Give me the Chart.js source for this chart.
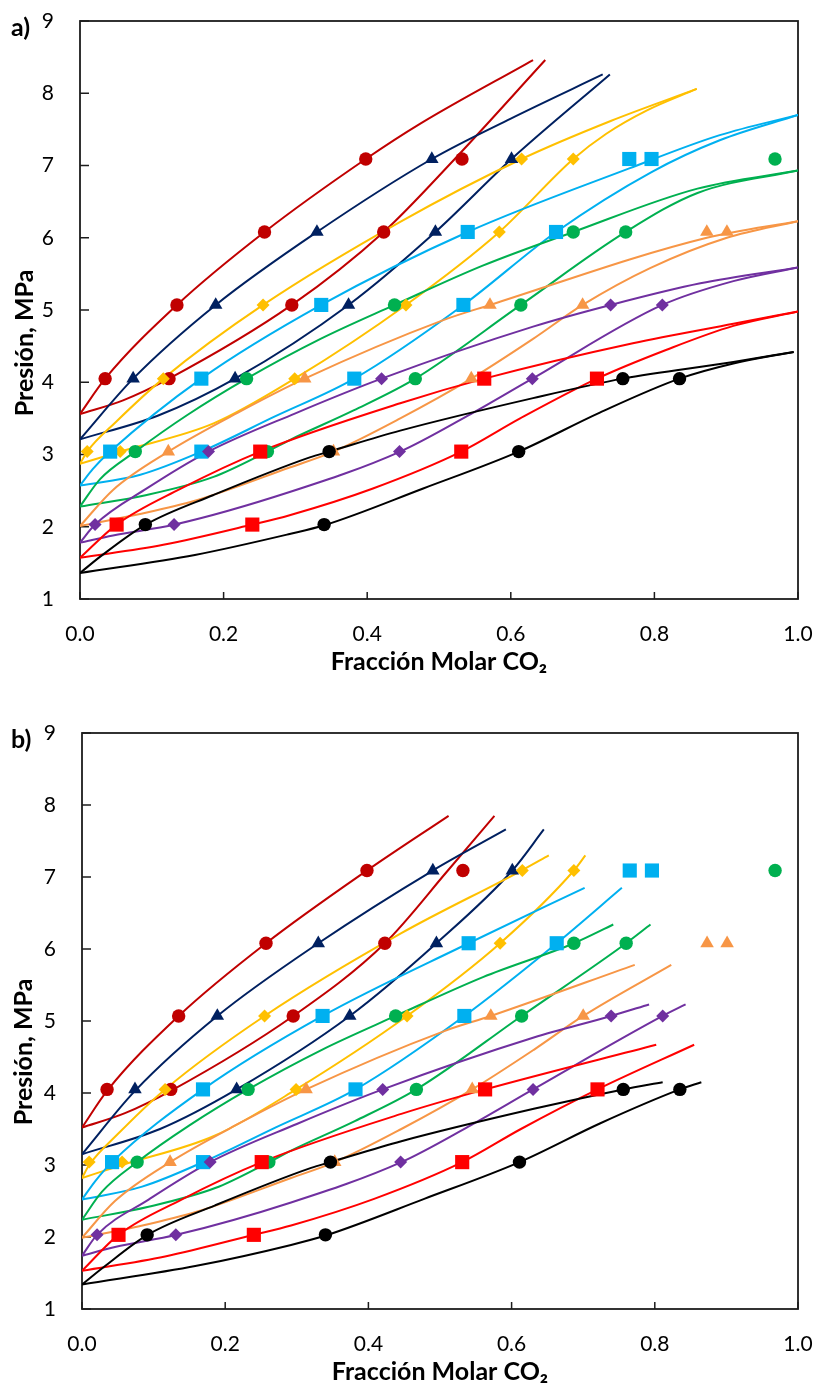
<!DOCTYPE html>
<html>
<head>
<meta charset="utf-8">
<script src="https://cdn.jsdelivr.net/npm/chart.js@4.4.1/dist/chart.umd.min.js"></script>
<style>
  body { margin: 0; background: #fff; width: 819px; height: 1391px; overflow: hidden; position: relative; }
  .panel { position: absolute; left: 0; width: 819px; }
  #panelA { top: 0; height: 679px; }
  #panelB { top: 690px; height: 701px; }
</style>
</head>
<body>
<div class="panel" id="panelA"><canvas id="chartA"></canvas></div>
<div class="panel" id="panelB"><canvas id="chartB"></canvas></div>
<script>
// experimental points [x CO2, P MPa]
const expBlack = [[0.091,2.03],[0.340,2.03],[0.347,3.04],[0.611,3.04],[0.756,4.05],[0.835,4.05]];
const expRed = [[0.051,2.03],[0.240,2.03],[0.251,3.04],[0.531,3.04],[0.563,4.05],[0.720,4.05]];
const expPurple = [[0.021,2.03],[0.131,2.03],[0.179,3.04],[0.445,3.04],[0.420,4.05],[0.630,4.05],[0.739,5.07],[0.811,5.07]];
const expOrange = [[0.123,3.04],[0.353,3.04],[0.313,4.05],[0.545,4.05],[0.571,5.07],[0.700,5.07],[0.873,6.08],[0.901,6.08]];
const expGreen = [[0.077,3.04],[0.261,3.04],[0.232,4.05],[0.467,4.05],[0.438,5.07],[0.614,5.07],[0.687,6.08],[0.760,6.08],[0.968,7.09]];
const expBlue = [[0.042,3.04],[0.169,3.04],[0.169,4.05],[0.382,4.05],[0.336,5.07],[0.534,5.07],[0.540,6.08],[0.663,6.08],[0.765,7.09],[0.796,7.09]];
const expYellow = [[0.010,3.04],[0.056,3.04],[0.116,4.05],[0.299,4.05],[0.255,5.07],[0.454,5.07],[0.584,6.08],[0.615,7.09],[0.687,7.09]];
const expNavy = [[0.074,4.05],[0.216,4.05],[0.189,5.07],[0.374,5.07],[0.330,6.08],[0.495,6.08],[0.490,7.09],[0.601,7.09]];
const expDarkRed = [[0.035,4.05],[0.124,4.05],[0.135,5.07],[0.295,5.07],[0.257,6.08],[0.423,6.08],[0.398,7.09],[0.532,7.09]];

// model curves, panel a)
const aBlackL = [[0,1.36],[0.03,1.6],[0.0915,2.03],[0.186,2.44],[0.32,2.96],[0.347,3.04],[0.446,3.33],[0.631,3.78],[0.756,4.05],[0.91,4.28],[0.994,4.42]];
const aBlackR = [[0,1.36],[0.16,1.61],[0.292,1.9],[0.34,2.02],[0.478,2.53],[0.611,3.04],[0.724,3.58],[0.835,4.05],[0.91,4.26],[0.994,4.42]];
const aRedL = [[0,1.57],[0.051,2.03],[0.139,2.52],[0.251,3.04],[0.446,3.71],[0.563,4.05],[0.77,4.54],[0.91,4.81],[1,4.98]];
const aRedR = [[0,1.57],[0.116,1.75],[0.24,2.03],[0.292,2.16],[0.408,2.53],[0.531,3.04],[0.613,3.5],[0.72,4.05],[0.817,4.45],[0.91,4.78],[1,4.98]];
const aPurL = [[0,1.78],[0.021,2.03],[0.093,2.53],[0.179,3.04],[0.3,3.57],[0.42,4.05],[0.631,4.77],[0.739,5.07],[0.864,5.37],[1,5.59]];
const aPurR = [[0,1.78],[0.046,1.88],[0.132,2.03],[0.292,2.48],[0.446,3.04],[0.539,3.53],[0.63,4.05],[0.811,5.07],[0.91,5.4],[1,5.59]];
const aOraL = [[0,2.01],[0.046,2.51],[0.123,3.04],[0.22,3.58],[0.313,4.05],[0.506,4.86],[0.571,5.07],[0.873,6.0],[1,6.23]];
const aOraR = [[0,2.01],[0.08,2.17],[0.16,2.36],[0.292,2.82],[0.353,3.04],[0.446,3.5],[0.545,4.05],[0.631,4.6],[0.7,5.07],[0.794,5.58],[0.901,6.0],[1,6.23]];
const aGrnL = [[0,2.28],[0.028,2.66],[0.077,3.04],[0.15,3.55],[0.232,4.05],[0.335,4.6],[0.438,5.07],[0.56,5.61],[0.687,6.08],[0.86,6.68],[1,6.93]];
const aGrnR = [[0,2.28],[0.093,2.44],[0.186,2.69],[0.261,3.04],[0.292,3.2],[0.381,3.61],[0.467,4.05],[0.614,5.07],[0.76,6.08],[0.86,6.62],[1,6.93]];
const aBluL = [[0,2.57],[0.018,2.8],[0.042,3.04],[0.169,4.05],[0.336,5.07],[0.54,6.08],[0.765,6.96],[0.891,7.42],[1,7.7]];
const aBluR = [[0,2.57],[0.084,2.72],[0.169,3.04],[0.27,3.52],[0.382,4.05],[0.534,5.07],[0.663,6.08],[0.796,6.91],[0.891,7.35],[1,7.7]];
const aYelL = [[0,2.87],[0.01,3.04],[0.05,3.45],[0.116,4.05],[0.255,5.07],[0.446,6.22],[0.615,7.09],[0.74,7.62],[0.859,8.06]];
const aYelR = [[0,2.87],[0.056,3.04],[0.186,3.43],[0.299,4.05],[0.454,5.07],[0.584,6.08],[0.687,7.09],[0.733,7.44],[0.789,7.76],[0.859,8.06]];
const aNavL = [[0,3.21],[0.074,4.05],[0.189,5.07],[0.33,6.08],[0.49,7.09],[0.6,7.65],[0.728,8.26]];
const aNavR = [[0,3.21],[0.109,3.54],[0.216,4.05],[0.374,5.07],[0.495,6.08],[0.601,7.09],[0.738,8.26]];
const aDrdL = [[0,3.56],[0.035,4.05],[0.135,5.07],[0.257,6.08],[0.398,7.09],[0.474,7.58],[0.631,8.46]];
const aDrdR = [[0,3.56],[0.06,3.75],[0.124,4.05],[0.295,5.07],[0.423,6.08],[0.52,7.07],[0.648,8.46]];

// model curves, panel b)
const bBlackL = [[0,1.34],[0.03,1.58],[0.0915,2.03],[0.186,2.44],[0.32,2.96],[0.347,3.04],[0.446,3.33],[0.631,3.78],[0.756,4.05],[0.811,4.15]];
const bBlackR = [[0,1.34],[0.16,1.6],[0.292,1.89],[0.34,2.02],[0.478,2.53],[0.611,3.04],[0.724,3.58],[0.835,4.05],[0.865,4.15]];
const bRedL = [[0,1.53],[0.051,2.03],[0.139,2.52],[0.251,3.04],[0.446,3.71],[0.563,4.05],[0.802,4.67]];
const bRedR = [[0,1.53],[0.116,1.73],[0.24,2.03],[0.292,2.16],[0.408,2.53],[0.531,3.04],[0.613,3.5],[0.72,4.05],[0.855,4.67]];
const bPurL = [[0,1.74],[0.021,2.03],[0.093,2.52],[0.179,3.04],[0.3,3.57],[0.42,4.05],[0.631,4.77],[0.739,5.07],[0.792,5.23]];
const bPurR = [[0,1.74],[0.046,1.86],[0.132,2.03],[0.292,2.48],[0.446,3.04],[0.539,3.53],[0.63,4.05],[0.811,5.07],[0.843,5.23]];
const bOraL = [[0,1.99],[0.046,2.5],[0.123,3.04],[0.22,3.58],[0.313,4.05],[0.506,4.86],[0.571,5.07],[0.772,5.78]];
const bOraR = [[0,1.99],[0.08,2.15],[0.16,2.35],[0.292,2.82],[0.353,3.04],[0.446,3.5],[0.545,4.05],[0.631,4.6],[0.7,5.07],[0.823,5.78]];
const bGrnL = [[0,2.24],[0.028,2.63],[0.077,3.04],[0.15,3.55],[0.232,4.05],[0.335,4.6],[0.438,5.07],[0.56,5.61],[0.687,6.08],[0.742,6.34]];
const bGrnR = [[0,2.24],[0.093,2.42],[0.186,2.68],[0.261,3.04],[0.292,3.2],[0.381,3.61],[0.467,4.05],[0.614,5.07],[0.76,6.08],[0.794,6.34]];
const bBluL = [[0,2.52],[0.018,2.77],[0.042,3.04],[0.169,4.05],[0.336,5.07],[0.54,6.08],[0.702,6.85]];
const bBluR = [[0,2.52],[0.084,2.7],[0.169,3.04],[0.27,3.52],[0.382,4.05],[0.534,5.07],[0.663,6.08],[0.754,6.85]];
const bYelL = [[0,2.82],[0.01,3.0],[0.05,3.43],[0.116,4.05],[0.255,5.07],[0.446,6.22],[0.614,7.09],[0.652,7.3]];
const bYelR = [[0,2.82],[0.056,3.0],[0.186,3.41],[0.299,4.05],[0.454,5.07],[0.584,6.08],[0.687,7.09],[0.703,7.3]];
const bNavL = [[0,3.15],[0.074,4.03],[0.189,5.07],[0.33,6.08],[0.49,7.09],[0.592,7.66]];
const bNavR = [[0,3.15],[0.109,3.5],[0.216,4.05],[0.374,5.07],[0.495,6.08],[0.601,7.09],[0.645,7.66]];
const bDrdL = [[0,3.52],[0.035,4.03],[0.135,5.07],[0.257,6.08],[0.398,7.09],[0.512,7.85]];
const bDrdR = [[0,3.52],[0.06,3.72],[0.124,4.03],[0.295,5.07],[0.423,6.08],[0.511,7.09],[0.576,7.85]];

const series = [
  {color: '#000000', style: 'circle', r: 6.7, exp: expBlack, a: [aBlackL, aBlackR], b: [bBlackL, bBlackR]},
  {color: '#FF0000', style: 'rect', r: 10, exp: expRed, a: [aRedL, aRedR], b: [bRedL, bRedR]},
  {color: '#7030A0', style: 'rectRot', r: 6.5, exp: expPurple, a: [aPurL, aPurR], b: [bPurL, bPurR]},
  {color: '#F79646', style: 'triangle', r: 7.8, exp: expOrange, a: [aOraL, aOraR], b: [bOraL, bOraR]},
  {color: '#00B050', style: 'circle', r: 6.7, exp: expGreen, a: [aGrnL, aGrnR], b: [bGrnL, bGrnR]},
  {color: '#00B0F0', style: 'rect', r: 10, exp: expBlue, a: [aBluL, aBluR], b: [bBluL, bBluR]},
  {color: '#FFC000', style: 'rectRot', r: 6.5, exp: expYellow, a: [aYelL, aYelR], b: [bYelL, bYelR]},
  {color: '#002060', style: 'triangle', r: 7.8, exp: expNavy, a: [aNavL, aNavR], b: [bNavL, bNavR]},
  {color: '#C00000', style: 'circle', r: 6.7, exp: expDarkRed, a: [aDrdL, aDrdR], b: [bDrdL, bDrdR]}
];

Chart.defaults.font.family = 'Lato';
Chart.defaults.color = '#000';

function toXY(pts) {
  return pts.map(p => ({x: p[0], y: p[1]}));
}

function buildDatasets(panel) {
  const ds = [];
  series.forEach(s => {
    s[panel].forEach(c => ds.push({
      data: toXY(c),
      showLine: true,
      borderColor: s.color,
      borderWidth: 2,
      pointRadius: 0,
      pointHoverRadius: 0,
      cubicInterpolationMode: 'monotone',
      order: 2
    }));
  });
  series.forEach(s => ds.push({
    data: toXY(s.exp),
    showLine: false,
    pointStyle: s.style,
    pointRadius: s.r,
    pointHoverRadius: s.r,
    pointBackgroundColor: s.color,
    pointBorderColor: s.color,
    pointBorderWidth: 0,
    order: 1
  }));
  return ds;
}

// box round the plot, inside tick marks, panel letter and y title
function framePlugin(cfg) {
  return {
    id: 'frame' + cfg.label,
    beforeDatasetsDraw(chart) {
      const {ctx, chartArea: a, scales: {x, y}} = chart;
      ctx.save();
      ctx.strokeStyle = '#1c1c1c';
      ctx.lineWidth = 1.8;
      ctx.strokeRect(a.left, a.top, a.right - a.left, a.bottom - a.top);
      ctx.lineWidth = 1.5;
      ctx.beginPath();
      x.ticks.forEach((t, i) => {
        const px = x.getPixelForTick(i);
        ctx.moveTo(px, a.bottom);
        ctx.lineTo(px, a.bottom - 7);
      });
      y.ticks.forEach((t, i) => {
        const py = y.getPixelForTick(i);
        ctx.moveTo(a.left, py);
        ctx.lineTo(a.left + 9, py);
      });
      ctx.stroke();
      ctx.restore();
    },
    afterDraw(chart) {
      const ctx = chart.ctx;
      ctx.save();
      ctx.fillStyle = '#000';
      ctx.font = 'bold 25px Lato';
      ctx.textAlign = 'left';
      ctx.textBaseline = 'alphabetic';
      ctx.fillText(cfg.label, 11, cfg.labelY);
      ctx.translate(cfg.titleX, cfg.titleY);
      ctx.rotate(-Math.PI / 2);
      ctx.textAlign = 'center';
      ctx.fillText('Presión, MPa', 0, 0);
      ctx.restore();
    }
  };
}

function makeChart(id, panel, cfg) {
  return new Chart(document.getElementById(id), {
    type: 'scatter',
    data: {datasets: buildDatasets(panel)},
    options: {
      responsive: true,
      maintainAspectRatio: false,
      animation: false,
      events: [],
      layout: {padding: {top: cfg.padTop, right: 21, left: 0, bottom: 0}},
      plugins: {legend: {display: false}, tooltip: {enabled: false}},
      scales: {
        x: {
          type: 'linear',
          min: 0,
          max: 1,
          afterFit: s => {
            s.height = cfg.xHeight;
            s.paddingLeft = 0;
            s.paddingRight = 0;
          },
          grid: {display: false, drawTicks: false},
          border: {display: false},
          ticks: {stepSize: 0.2, padding: 23, font: {size: 21}, callback: v => v.toFixed(1)},
          title: {
            display: true,
            text: 'Fracción Molar CO₂',
            font: {size: 25, weight: 'bold'},
            padding: {top: 0, bottom: cfg.titlePad}
          }
        },
        y: {
          type: 'linear',
          min: 1,
          max: 9,
          afterFit: s => {
            s.width = cfg.yWidth;
            s.paddingTop = 0;
            s.paddingBottom = 0;
          },
          grid: {display: false, drawTicks: false},
          border: {display: false},
          ticks: {stepSize: 1, padding: 26, font: {size: 21}}
        }
      }
    },
    plugins: [framePlugin(cfg)]
  });
}

makeChart('chartA', 'a', {label: 'a)', labelY: 36, titleX: 33, titleY: 343, padTop: 21, xHeight: 80, yWidth: 80, titlePad: 2});
makeChart('chartB', 'b', {label: 'b)', labelY: 58, titleX: 32, titleY: 362, padTop: 43, xHeight: 82, yWidth: 82, titlePad: 4});
</script>
</body>
</html>
